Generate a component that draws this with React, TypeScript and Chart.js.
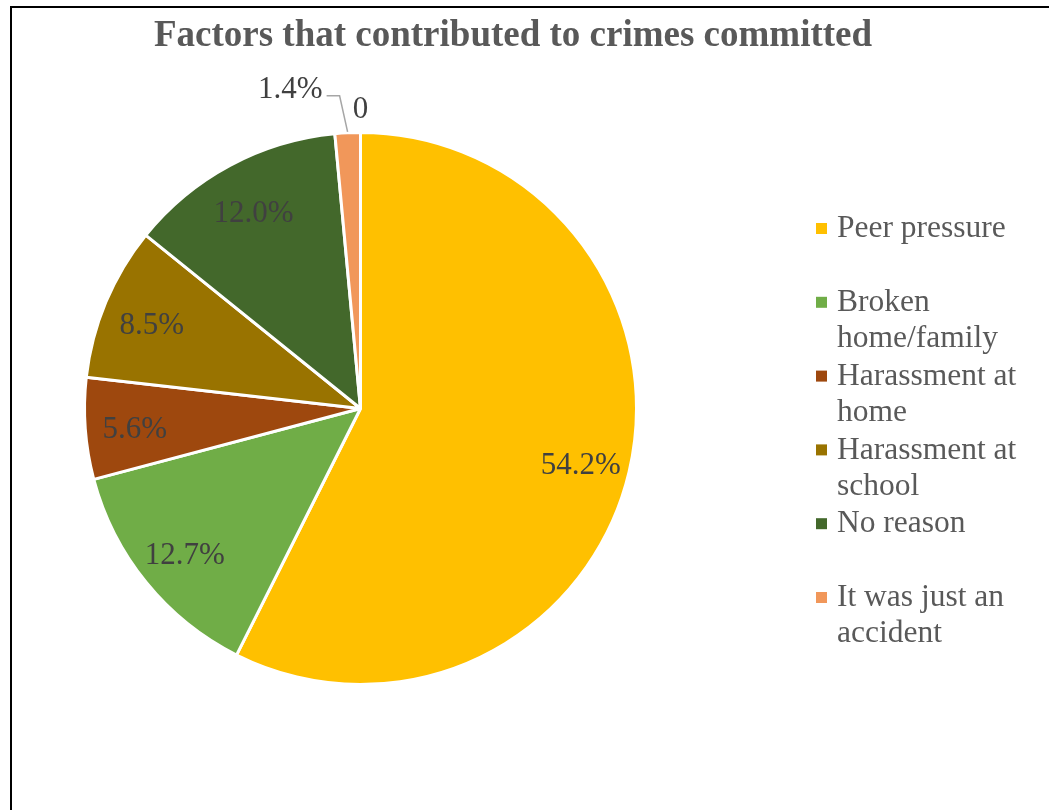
import React, { useEffect, useRef } from "react";
import { Chart, registerables } from "chart.js";

Chart.register(...registerables);

const TITLE = "Factors that contributed to crimes committed";
const categories = [
  "Peer pressure",
  "Broken home/family",
  "Harassment at home",
  "Harassment at school",
  "No reason",
  "It was just an accident",
  "",
];
const values = [54.2, 12.7, 5.6, 8.5, 12.0, 1.4, 0];
const colors = ["#FFC000", "#70AD47", "#9E480E", "#997300", "#43682B", "#F1975A", "#FFFFFF"];

const SERIF = '"Liberation Serif", "Times New Roman", serif';

function wrap(ctx: CanvasRenderingContext2D, text: string, maxW: number): string[] {
  const words = text.split(" ");
  const lines: string[] = [];
  let cur = "";
  for (const w of words) {
    const t = cur ? cur + " " + w : w;
    if (ctx.measureText(t).width > maxW && cur) {
      lines.push(cur);
      cur = w;
    } else cur = t;
  }
  if (cur) lines.push(cur);
  return lines;
}

const decorPlugin = {
  id: "decor",
  afterDraw(chart: any) {
    const ctx: CanvasRenderingContext2D = chart.ctx;
    ctx.save();
    // title
    ctx.fillStyle = "#595959";
    ctx.font = `bold 37px ${SERIF}`;
    ctx.textAlign = "center";
    ctx.textBaseline = "alphabetic";
    ctx.fillText(TITLE, 513, 46);

    // data labels
    const meta = chart.getDatasetMeta(0);
    ctx.font = `31px ${SERIF}`;
    ctx.fillStyle = "#404040";
    ctx.textBaseline = "middle";
    meta.data.forEach((arc: any, i: number) => {
      const v = values[i];
      const mid = (arc.startAngle + arc.endAngle) / 2;
      const R = arc.outerRadius;
      const txt = v > 0 ? v.toFixed(1) + "%" : "0";
      if (v >= 5) {
        const r = R * 0.82;
        ctx.textAlign = "center";
        ctx.fillText(txt, arc.x + Math.cos(mid) * r, arc.y + Math.sin(mid) * r + 5);
      } else if (v > 0) {
        const sx = arc.x + Math.cos(mid) * (R + 1);
        const sy = arc.y + Math.sin(mid) * (R + 1);
        const ex = sx - 8;
        const ey = sy - 36;
        ctx.strokeStyle = "#A6A6A6";
        ctx.lineWidth = 1.5;
        ctx.beginPath();
        ctx.moveTo(sx, sy);
        ctx.lineTo(ex, ey);
        ctx.lineTo(ex - 13, ey);
        ctx.stroke();
        ctx.textAlign = "right";
        ctx.fillText(txt, ex - 17, ey - 6);
      } else {
        const r = R + 23;
        ctx.textAlign = "center";
        ctx.fillText(txt, arc.x + Math.cos(mid) * r, arc.y + Math.sin(mid) * r);
      }
    });

    // legend
    ctx.font = `31.5px ${SERIF}`;
    ctx.textAlign = "left";
    ctx.textBaseline = "middle";
    categories.forEach((c, i) => {
      if (!c) return;
      const y0 = 229 + i * 73.8;
      ctx.fillStyle = colors[i];
      ctx.fillRect(816, y0 - 6, 11, 11);
      ctx.fillStyle = "#595959";
      const lines = wrap(ctx, c, 200);
      lines.forEach((ln, k) => ctx.fillText(ln, 837, y0 + k * 36));
    });
    ctx.restore();
  },
};

export default function App() {
  const ref = useRef<HTMLCanvasElement>(null);
  useEffect(() => {
    if (!ref.current) return;
    const chart = new Chart(ref.current, {
      type: "pie",
      data: {
        labels: categories,
        datasets: [
          {
            data: values,
            backgroundColor: colors,
            borderColor: "#FFFFFF",
            borderWidth: 3,
          },
        ],
      },
      options: {
        responsive: false,
        animation: false,
        layout: { padding: { left: 83, right: 411, top: 131, bottom: 124 } },
        plugins: {
          legend: { display: false },
          title: { display: false },
          tooltip: { enabled: false },
        },
      },
      plugins: [decorPlugin],
    });
    return () => chart.destroy();
  }, []);

  return (
    <div style={{ position: "fixed", left: 0, top: 0, width: 1049, height: 810, background: "#fff", overflow: "hidden" }}>
      <div
        style={{
          position: "absolute",
          left: 10,
          top: 6,
          width: 1100,
          height: 900,
          borderLeft: "2px solid #000",
          borderTop: "2px solid #000",
        }}
      />
      <canvas ref={ref} width={1049} height={810} style={{ position: "absolute", left: 0, top: 0 }} />
    </div>
  );
}
